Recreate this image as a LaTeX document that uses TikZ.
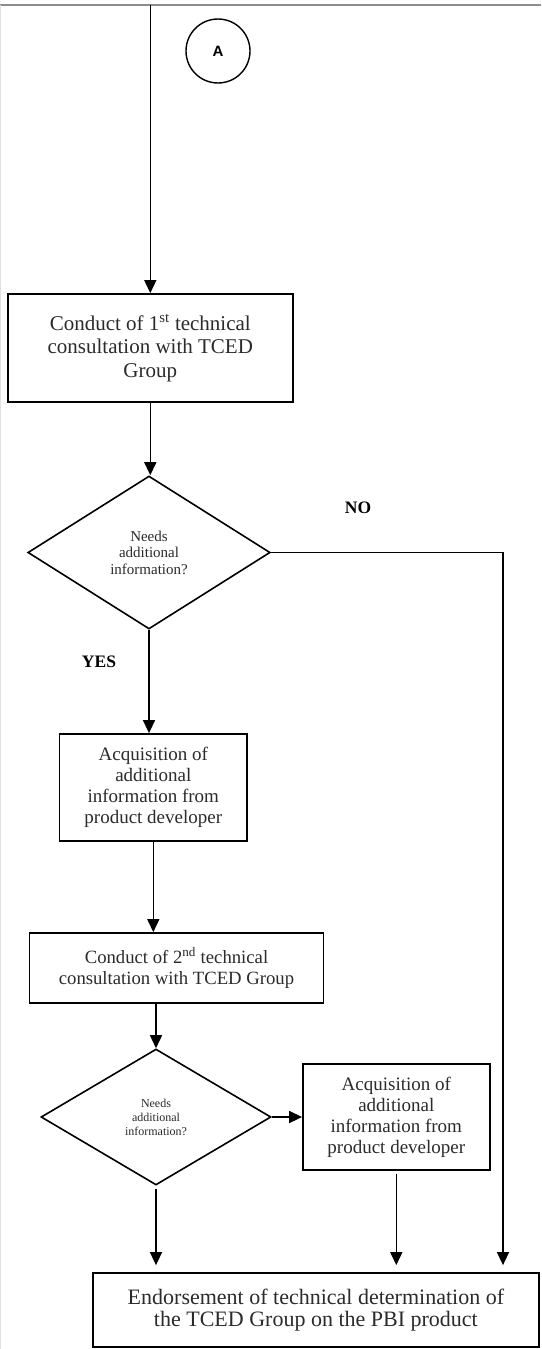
\documentclass[tikz,border=0pt]{standalone}
\usepackage{fontspec}
\setmainfont{Liberation Serif}
\newfontfamily\sansA{Liberation Sans}
\usetikzlibrary{shapes.geometric,arrows.meta}
\definecolor{txt}{HTML}{2b2b2b}
\tikzset{
  box/.style={draw=black, line width=1.8pt, rectangle, inner sep=0pt, align=center, text=txt},
  decision/.style={draw=black, line width=1.6pt, diamond, inner sep=0pt, align=center, text=txt},
  flow/.style={draw=black, line width=1.5pt, -{Triangle[width=12pt,length=13pt]}},
  lbl/.style={font=\bfseries\fontsize{17.5}{20}\selectfont, text=black},
  connector/.style={draw=black, circle, line width=1.4pt, minimum size=64pt, inner sep=0pt,
    font=\sansA\bfseries\fontsize{15}{15}\selectfont},
}
\begin{document}
\begin{tikzpicture}[x=1pt,y=-1pt]
\path[use as bounding box, fill=white] (0,0) rectangle (541,1349);
\draw[black!45, line width=2.2pt] (0,5) -- (541,5);
\draw[black!12, line width=1.2pt] (0.8,5) -- (0.8,1349);

\node[connector] (ca) at (218,51) {A};

\node[box, minimum width=285.4pt, minimum height=108pt,
  font=\fontsize{21}{23.5}\selectfont] (b1) at (150.3,348)
  {Conduct of 1\textsuperscript{st} technical\\consultation with TCED\\Group};

\node[decision, minimum width=242.3pt, minimum height=153pt,
  font=\fontsize{15}{16.5}\selectfont] (d1) at (149,552.5)
  {Needs\\additional\\information?};

\node[box, minimum width=187.5pt, minimum height=107pt,
  font=\fontsize{19}{21}\selectfont] (b2) at (153.3,787.5)
  {Acquisition of\\additional\\information from\\product developer};

\node[box, minimum width=294pt, minimum height=70pt,
  font=\fontsize{18.7}{21}\selectfont] (b3) at (176.5,968)
  {Conduct of 2\textsuperscript{nd} technical\\consultation with TCED Group};

\node[decision, minimum width=230pt, minimum height=136pt,
  font=\fontsize{12}{14}\selectfont] (d2) at (156,1117)
  {Needs\\additional\\information?};

\node[box, minimum width=186.6pt, minimum height=106pt,
  font=\fontsize{19}{21}\selectfont] (b4) at (396.3,1117)
  {Acquisition of\\additional\\information from\\product developer};

\node[box, minimum width=446.3pt, minimum height=74pt,
  font=\fontsize{22}{22}\selectfont] (fin) at (315.9,1310)
  {Endorsement of technical determination of\\the TCED Group on the PBI product};

\node[lbl] (no) at (358,508) {NO};
\node[lbl] (yes) at (99,662) {YES};

\coordinate (start) at (150.3,5);
\coordinate (nox) at (503,552.5);

\draw[flow] (start) -- (b1.north);
\draw[flow] (b1.south) -- (b1.south |- d1.north);
\draw[flow] (d1.south) -- (d1.south |- b2.north);
\draw[flow, shorten >=7pt] (d1.east) -- (nox) -- (nox |- fin.north);
\draw[flow] (b2.south) -- (b2.south |- b3.north);
\draw[flow] (d2.north |- b3.south) -- (d2.north);
\draw[flow] (d2.east) -- (b4.west);
\draw[flow, shorten <=3pt, shorten >=7pt] (d2.south) -- (d2.south |- fin.north);
\draw[flow, shorten <=3pt, shorten >=7pt] (b4.south) -- (b4.south |- fin.north);
\end{tikzpicture}
\end{document}
